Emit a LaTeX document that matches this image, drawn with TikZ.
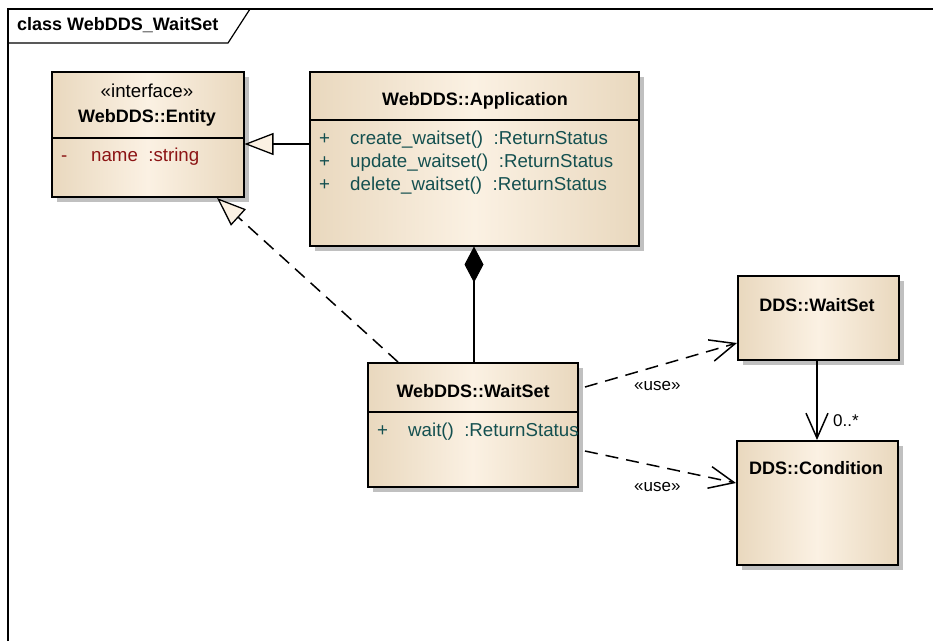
\documentclass[tikz,border=0pt]{standalone}
\usepackage{fontspec}
\setmainfont{Liberation Sans}
\usetikzlibrary{arrows.meta,shadows}
\definecolor{boxedge}{RGB}{233,216,190}
\definecolor{boxmid}{RGB}{251,241,227}
\definecolor{attrred}{RGB}{140,20,20}
\definecolor{opteal}{RGB}{20,80,80}
\definecolor{shadowgray}{RGB}{192,192,192}
\tikzset{
  umlbox/.style={draw=black, line width=1.5pt, rectangle, anchor=north west, inner sep=0pt,
    left color=boxedge, right color=boxedge, middle color=boxmid,
    drop shadow={shadow xshift=5pt, shadow yshift=-5pt, fill=shadowgray, opacity=1}},
  divider/.style={draw=black, line width=1.3pt},
  ttl/.style={font=\fontsize{18}{21}\selectfont\bfseries, anchor=mid, inner sep=0pt, yshift=-2pt},
  ster/.style={font=\fontsize{18.7}{22}\selectfont, anchor=mid, inner sep=0pt, yshift=-2pt},
  attr/.style={font=\fontsize{18.7}{22}\selectfont, text=attrred, anchor=mid west, inner sep=0pt, yshift=-1pt},
  oper/.style={font=\fontsize{18.7}{22}\selectfont, text=opteal, anchor=mid west, inner sep=0pt, yshift=-1pt},
  lbl/.style={font=\fontsize{17}{20}\selectfont, anchor=mid west, inner sep=0pt, yshift=-1pt},
  conn/.style={draw=black, line width=1.5pt},
  dashconn/.style={conn, dash pattern=on 13pt off 8pt},
  gentip/.style={-{Triangle[length=29pt,width=22pt,fill=boxmid,line width=1.3pt]}},
  opentip/.style={-{Straight Barb[length=25pt,width=22pt,line width=1.5pt]}},
  comptip/.style={-{Diamond[length=36pt,width=19pt,line width=1pt]}}
}
\begin{document}
\begin{tikzpicture}[x=1pt,y=-1pt]
\useasboundingbox (0,0) rectangle (933,641);
% frame
\draw[line width=1.2pt] (8,641) -- (8,9) -- (933,9);
\draw[line width=1.2pt] (8,43) -- (228,43) -- (250,9);
\node[ttl, anchor=mid west] (frametitle) at (17,26) {class WebDDS\_WaitSet};

% boxes
\node[umlbox, minimum width=192pt, minimum height=125pt] (ent) at (51,71) {};
\node[umlbox, minimum width=329pt, minimum height=174pt] (app) at (309,71) {};
\node[umlbox, minimum width=210pt, minimum height=124pt] (ws) at (367,362) {};
\node[umlbox, minimum width=161pt, minimum height=84pt] (ddsws) at (737,275) {};
\node[umlbox, minimum width=161pt, minimum height=124pt] (ddscond) at (736,440) {};

% dividers
\draw[divider] (ent.west |- 0,138) -- (ent.east |- 0,138);
\draw[divider] (app.west |- 0,120) -- (app.east |- 0,120);
\draw[divider] (ws.west |- 0,412) -- (ws.east |- 0,412);

% Entity text
\node[ster] (entster) at (147,93) {«interface»};
\node[ttl] (enttitle) at (147,118) {WebDDS::Entity};
\node[attr] (entvis) at (61,158) {-};
\node[attr] (entattr) at (91,158) {name\ \ :string};

% Application text
\node[ttl] (apptitle) at (475,101) {WebDDS::Application};
\node[oper] (appv1) at (319,141) {+};
\node[oper] (appo1) at (350,141) {create\_waitset()\ \ :ReturnStatus};
\node[oper] (appv2) at (319,164) {+};
\node[oper] (appo2) at (350,164) {update\_waitset()\ \ :ReturnStatus};
\node[oper] (appv3) at (319,187) {+};
\node[oper] (appo3) at (350,187) {delete\_waitset()\ \ :ReturnStatus};

% WaitSet text
\node[ttl] (wstitle) at (473,393) {WebDDS::WaitSet};
\node[oper] (wsv1) at (377,433) {+};
\node[oper] (wso1) at (408,433) {wait()\ \ :ReturnStatus};

% DDS boxes text
\node[ttl] (ddswstitle) at (817,307) {DDS::WaitSet};
\node[ttl] (ddscondtitle) at (816,470) {DDS::Condition};

% connector end points
\coordinate (genA) at (app.west |- 0,144);
\coordinate (genB) at (ent.east |- 0,144);
\coordinate (realA) at (398,362);
\coordinate (realB) at (217,198);
\coordinate (compA) at (ws.north -| 474,0);
\coordinate (compB) at (app.south -| 474,0);
\coordinate (use1A) at (585,387);
\coordinate (use1B) at (ddsws.west |- 0,343);
\coordinate (use2A) at (585,451);
\coordinate (use2B) at (ddscond.west |- 0,483);
\coordinate (assocA) at (ddsws.south -| 817,0);
\coordinate (assocB) at (ddscond.north -| 817,0);

% connectors
\draw[conn, gentip] (genA) -- (genB);
\draw[dashconn, gentip] (realA) -- (realB);
\draw[conn, comptip] (compA) -- (compB);
\draw[dashconn, opentip] (use1A) -- (use1B);
\draw[dashconn, opentip] (use2A) -- (use2B);
\draw[conn, opentip] (assocA) -- (assocB);

% labels
\node[lbl] (use1lbl) at (634,387) {«use»};
\node[lbl] (use2lbl) at (634,488) {«use»};
\node[lbl] (multlbl) at (833,423) {0..*};
\end{tikzpicture}
\end{document}
